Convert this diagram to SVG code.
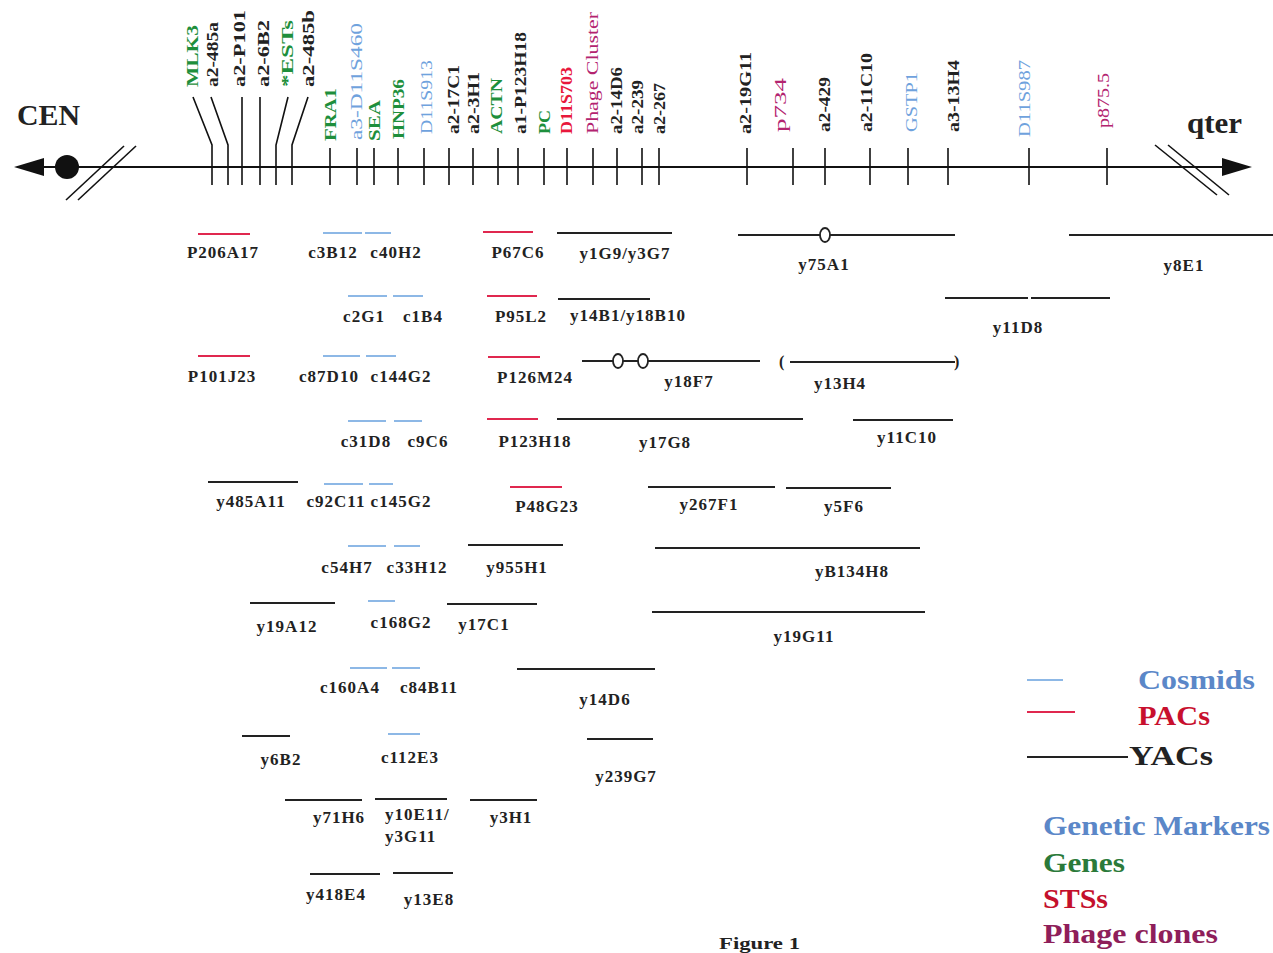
<svg xmlns="http://www.w3.org/2000/svg" width="1273" height="953" viewBox="0 0 1273 953">
<style>
.ax{stroke:#111;stroke-width:2;fill:none}
.tk{stroke:#111;stroke-width:1.6;fill:none}
.yac{stroke:#222;stroke-width:2.2}
.cos{stroke:#8db8e6;stroke-width:2}
.pac{stroke:#e0284f;stroke-width:2.2}
.lbl{font-family:"Liberation Serif",serif;font-weight:bold;font-size:17px;fill:#222;text-anchor:middle;letter-spacing:1px}
.tl{font-family:"Liberation Serif",serif;font-weight:bold;font-size:17px;fill:#222}
.tl.g{fill:#1e8f3c}
.tl.b{fill:#6fa2dd;font-weight:normal}
.tl.r{fill:#e8183c}
.tl.m{fill:#b3236f;font-weight:normal}
.big{font-family:"Liberation Serif",serif;font-weight:bold;font-size:29px;fill:#222}
.leg{font-family:"Liberation Serif",serif;font-weight:bold;font-size:27px}
.par{font-family:"Liberation Serif",serif;font-weight:bold;font-size:16px;fill:#222}
.ring{fill:#fff;stroke:#222;stroke-width:1.8}
</style>
<rect width="1273" height="953" fill="#fff"/>

<g id="axis">
<line class="ax" x1="42" y1="167" x2="1230" y2="167"/>
<polygon points="14,167 44,158 44,176" fill="#111"/>
<circle cx="67" cy="167" r="12" fill="#111"/>
<line class="tk" x1="66" y1="200" x2="124" y2="146"/>
<line class="tk" x1="78" y1="200" x2="136" y2="146"/>
<polygon points="1252,167 1222,158 1222,176" fill="#111"/>
<line class="tk" x1="1155" y1="145" x2="1217" y2="195"/>
<line class="tk" x1="1168" y1="145" x2="1229" y2="195"/>
<text class="big" x="17" y="125" textLength="63" lengthAdjust="spacingAndGlyphs">CEN</text>
<text class="big" x="1187" y="133" textLength="55" lengthAdjust="spacingAndGlyphs">qter</text>
</g>

<g id="connectors">
<polyline class="tk" points="193,97 212,145 212,185"/>
<polyline class="tk" points="211,97 228,145 228,185"/>
<polyline class="tk" points="242,97 242,185"/>
<polyline class="tk" points="260,97 260,185"/>
<polyline class="tk" points="288,97 276,145 276,185"/>
<polyline class="tk" points="308,97 292,145 292,185"/>
</g>

<g id="markers">
<g id="m-MLK3"><text class="tl g" transform="translate(198,87) rotate(-90)" textLength="62" lengthAdjust="spacingAndGlyphs">MLK3</text></g>
<g id="m-a2-485a"><text class="tl" transform="translate(218,87) rotate(-90)" textLength="65" lengthAdjust="spacingAndGlyphs">a2-485a</text></g>
<g id="m-a2-P101"><text class="tl" transform="translate(245,87) rotate(-90)" textLength="77" lengthAdjust="spacingAndGlyphs">a2-P101</text></g>
<g id="m-a2-6B2"><text class="tl" transform="translate(269,87) rotate(-90)" textLength="67" lengthAdjust="spacingAndGlyphs">a2-6B2</text></g>
<g id="m-ESTs"><text class="tl g" transform="translate(293,87) rotate(-90)" textLength="67" lengthAdjust="spacingAndGlyphs">*ESTs</text></g>
<g id="m-a2-485b"><text class="tl" transform="translate(314,87) rotate(-90)" textLength="77" lengthAdjust="spacingAndGlyphs">a2-485b</text></g>

<g id="m-FRA1"><line class="tk" x1="330" y1="148" x2="330" y2="185"/><text class="tl g" transform="translate(336,141) rotate(-90)" textLength="53" lengthAdjust="spacingAndGlyphs">FRA1</text></g>
<g id="m-a3-D11S460"><line class="tk" x1="357" y1="148" x2="357" y2="185"/><text class="tl b" transform="translate(362,140) rotate(-90)" textLength="117" lengthAdjust="spacingAndGlyphs">a3-D11S460</text></g>
<g id="m-SEA"><line class="tk" x1="374" y1="148" x2="374" y2="185"/><text class="tl g" transform="translate(380,141) rotate(-90)" textLength="41" lengthAdjust="spacingAndGlyphs">SEA</text></g>
<g id="m-HNP36"><line class="tk" x1="398" y1="148" x2="398" y2="185"/><text class="tl g" transform="translate(404,139) rotate(-90)" textLength="60" lengthAdjust="spacingAndGlyphs">HNP36</text></g>
<g id="m-D11S913"><line class="tk" x1="424" y1="148" x2="424" y2="185"/><text class="tl b" transform="translate(432,134) rotate(-90)" textLength="74" lengthAdjust="spacingAndGlyphs">D11S913</text></g>
<g id="m-a2-17C1"><line class="tk" x1="449" y1="148" x2="449" y2="185"/><text class="tl" transform="translate(459,134) rotate(-90)" textLength="69" lengthAdjust="spacingAndGlyphs">a2-17C1</text></g>
<g id="m-a2-3H1"><line class="tk" x1="473" y1="148" x2="473" y2="185"/><text class="tl" transform="translate(479,134) rotate(-90)" textLength="62" lengthAdjust="spacingAndGlyphs">a2-3H1</text></g>
<g id="m-ACTN"><line class="tk" x1="498" y1="148" x2="498" y2="185"/><text class="tl g" transform="translate(502,134) rotate(-90)" textLength="56" lengthAdjust="spacingAndGlyphs">ACTN</text></g>
<g id="m-a1-P123H18"><line class="tk" x1="518" y1="148" x2="518" y2="185"/><text class="tl" transform="translate(526,134) rotate(-90)" textLength="102" lengthAdjust="spacingAndGlyphs">a1-P123H18</text></g>
<g id="m-PC"><line class="tk" x1="544" y1="148" x2="544" y2="185"/><text class="tl g" transform="translate(550,134) rotate(-90)" textLength="24" lengthAdjust="spacingAndGlyphs">PC</text></g>
<g id="m-D11S703"><line class="tk" x1="567" y1="148" x2="567" y2="185"/><text class="tl r" transform="translate(572,134) rotate(-90)" textLength="67" lengthAdjust="spacingAndGlyphs">D11S703</text></g>
<g id="m-Phage"><line class="tk" x1="593" y1="148" x2="593" y2="185"/><text class="tl m" transform="translate(598,134) rotate(-90)" textLength="122" lengthAdjust="spacingAndGlyphs">Phage Cluster</text></g>
<g id="m-a2-14D6"><line class="tk" x1="617" y1="148" x2="617" y2="185"/><text class="tl" transform="translate(622,134) rotate(-90)" textLength="67" lengthAdjust="spacingAndGlyphs">a2-14D6</text></g>
<g id="m-a2-239"><line class="tk" x1="642" y1="148" x2="642" y2="185"/><text class="tl" transform="translate(643,134) rotate(-90)" textLength="54" lengthAdjust="spacingAndGlyphs">a2-239</text></g>
<g id="m-a2-267"><line class="tk" x1="659" y1="148" x2="659" y2="185"/><text class="tl" transform="translate(665,134) rotate(-90)" textLength="51" lengthAdjust="spacingAndGlyphs">a2-267</text></g>
<g id="m-a2-19G11"><line class="tk" x1="747" y1="148" x2="747" y2="185"/><text class="tl" transform="translate(751,134) rotate(-90)" textLength="82" lengthAdjust="spacingAndGlyphs">a2-19G11</text></g>
<g id="m-p734"><line class="tk" x1="793" y1="148" x2="793" y2="185"/><text class="tl m" transform="translate(786,132) rotate(-90)" textLength="54" lengthAdjust="spacingAndGlyphs">p734</text></g>
<g id="m-a2-429"><line class="tk" x1="825" y1="148" x2="825" y2="185"/><text class="tl" transform="translate(830,132) rotate(-90)" textLength="55" lengthAdjust="spacingAndGlyphs">a2-429</text></g>
<g id="m-a2-11C10"><line class="tk" x1="870" y1="148" x2="870" y2="185"/><text class="tl" transform="translate(872,132) rotate(-90)" textLength="79" lengthAdjust="spacingAndGlyphs">a2-11C10</text></g>
<g id="m-GSTP1"><line class="tk" x1="908" y1="148" x2="908" y2="185"/><text class="tl b" transform="translate(917,132) rotate(-90)" textLength="60" lengthAdjust="spacingAndGlyphs">GSTP1</text></g>
<g id="m-a3-13H4"><line class="tk" x1="948" y1="148" x2="948" y2="185"/><text class="tl" transform="translate(959,132) rotate(-90)" textLength="72" lengthAdjust="spacingAndGlyphs">a3-13H4</text></g>
<g id="m-D11S987"><line class="tk" x1="1029" y1="148" x2="1029" y2="185"/><text class="tl b" transform="translate(1030,137) rotate(-90)" textLength="77" lengthAdjust="spacingAndGlyphs">D11S987</text></g>
<g id="m-p875.5"><line class="tk" x1="1107" y1="148" x2="1107" y2="185"/><text class="tl m" transform="translate(1109,128) rotate(-90)" textLength="55" lengthAdjust="spacingAndGlyphs">p875.5</text></g>
</g>

<g id="clones">
<g id="P206A17"><line class="pac" x1="198" y1="234" x2="250" y2="234"/><text class="lbl" x="223" y="258">P206A17</text></g>
<g id="c3B12"><line class="cos" x1="323" y1="233" x2="362" y2="233"/><text class="lbl" x="333" y="258">c3B12</text></g>
<g id="c40H2"><line class="cos" x1="365" y1="233" x2="391" y2="233"/><text class="lbl" x="396" y="258">c40H2</text></g>
<g id="P67C6"><line class="pac" x1="483" y1="232" x2="533" y2="232"/><text class="lbl" x="518" y="258">P67C6</text></g>
<g id="y1G9"><line class="yac" x1="557" y1="233" x2="672" y2="233"/><text class="lbl" x="625" y="259">y1G9/y3G7</text></g>
<g id="y75A1"><line class="yac" x1="738" y1="235" x2="955" y2="235"/><ellipse class="ring" cx="825" cy="235" rx="5" ry="7"/><text class="lbl" x="824" y="270">y75A1</text></g>
<g id="y8E1"><line class="yac" x1="1069" y1="235" x2="1273" y2="235"/><text class="lbl" x="1184" y="271">y8E1</text></g>

<g id="c2G1"><line class="cos" x1="348" y1="296" x2="387" y2="296"/><text class="lbl" x="364" y="322">c2G1</text></g>
<g id="c1B4"><line class="cos" x1="393" y1="296" x2="423" y2="296"/><text class="lbl" x="423" y="322">c1B4</text></g>
<g id="P95L2"><line class="pac" x1="487" y1="296" x2="537" y2="296"/><text class="lbl" x="521" y="322">P95L2</text></g>
<g id="y14B1"><line class="yac" x1="558" y1="299" x2="650" y2="299"/><text class="lbl" x="628" y="321">y14B1/y18B10</text></g>
<g id="y11D8"><line class="yac" x1="945" y1="298" x2="1028" y2="298"/><line class="yac" x1="1031" y1="298" x2="1110" y2="298"/><text class="lbl" x="1018" y="333">y11D8</text></g>

<g id="P101J23"><line class="pac" x1="198" y1="356" x2="250" y2="356"/><text class="lbl" x="222" y="382">P101J23</text></g>
<g id="c87D10"><line class="cos" x1="323" y1="356" x2="360" y2="356"/><text class="lbl" x="329" y="382">c87D10</text></g>
<g id="c144G2"><line class="cos" x1="366" y1="356" x2="396" y2="356"/><text class="lbl" x="401" y="382">c144G2</text></g>
<g id="P126M24"><line class="pac" x1="488" y1="357" x2="540" y2="357"/><text class="lbl" x="535" y="383">P126M24</text></g>
<g id="y18F7"><line class="yac" x1="582" y1="361" x2="760" y2="361"/><ellipse class="ring" cx="618" cy="361" rx="5" ry="7"/><ellipse class="ring" cx="643" cy="361" rx="5" ry="7"/><text class="lbl" x="689" y="387">y18F7</text></g>
<g id="y13H4"><line class="yac" x1="790" y1="362" x2="955" y2="362"/><text class="par" x="779" y="367">(</text><text class="par" x="954" y="367">)</text><text class="lbl" x="840" y="389">y13H4</text></g>

<g id="c31D8"><line class="cos" x1="348" y1="421" x2="386" y2="421"/><text class="lbl" x="366" y="447">c31D8</text></g>
<g id="c9C6"><line class="cos" x1="394" y1="421" x2="422" y2="421"/><text class="lbl" x="428" y="447">c9C6</text></g>
<g id="P123H18"><line class="pac" x1="487" y1="419" x2="538" y2="419"/><text class="lbl" x="535" y="447">P123H18</text></g>
<g id="y17G8"><line class="yac" x1="557" y1="419" x2="803" y2="419"/><text class="lbl" x="665" y="448">y17G8</text></g>
<g id="y11C10"><line class="yac" x1="853" y1="420" x2="953" y2="420"/><text class="lbl" x="907" y="443">y11C10</text></g>

<g id="y485A11"><line class="yac" x1="208" y1="482" x2="298" y2="482"/><text class="lbl" x="251" y="507">y485A11</text></g>
<g id="c92C11"><line class="cos" x1="324" y1="484" x2="363" y2="484"/><text class="lbl" x="336" y="507">c92C11</text></g>
<g id="c145G2"><line class="cos" x1="369" y1="484" x2="393" y2="484"/><text class="lbl" x="401" y="507">c145G2</text></g>
<g id="P48G23"><line class="pac" x1="510" y1="487" x2="562" y2="487"/><text class="lbl" x="547" y="512">P48G23</text></g>
<g id="y267F1"><line class="yac" x1="648" y1="487" x2="775" y2="487"/><text class="lbl" x="709" y="510">y267F1</text></g>
<g id="y5F6"><line class="yac" x1="786" y1="488" x2="891" y2="488"/><text class="lbl" x="844" y="512">y5F6</text></g>

<g id="c54H7"><line class="cos" x1="348" y1="546" x2="386" y2="546"/><text class="lbl" x="347" y="573">c54H7</text></g>
<g id="c33H12"><line class="cos" x1="394" y1="546" x2="420" y2="546"/><text class="lbl" x="417" y="573">c33H12</text></g>
<g id="y955H1"><line class="yac" x1="468" y1="545" x2="563" y2="545"/><text class="lbl" x="517" y="573">y955H1</text></g>
<g id="yB134H8"><line class="yac" x1="655" y1="548" x2="920" y2="548"/><text class="lbl" x="852" y="577">yB134H8</text></g>

<g id="y19A12"><line class="yac" x1="250" y1="603" x2="335" y2="603"/><text class="lbl" x="287" y="632">y19A12</text></g>
<g id="c168G2"><line class="cos" x1="368" y1="601" x2="395" y2="601"/><text class="lbl" x="401" y="628">c168G2</text></g>
<g id="y17C1"><line class="yac" x1="447" y1="604" x2="537" y2="604"/><text class="lbl" x="484" y="630">y17C1</text></g>
<g id="y19G11"><line class="yac" x1="652" y1="612" x2="925" y2="612"/><text class="lbl" x="804" y="642">y19G11</text></g>

<g id="c160A4"><line class="cos" x1="350" y1="668" x2="387" y2="668"/><text class="lbl" x="350" y="693">c160A4</text></g>
<g id="c84B11"><line class="cos" x1="392" y1="668" x2="420" y2="668"/><text class="lbl" x="429" y="693">c84B11</text></g>
<g id="y14D6"><line class="yac" x1="517" y1="669" x2="655" y2="669"/><text class="lbl" x="605" y="705">y14D6</text></g>

<g id="y6B2"><line class="yac" x1="242" y1="736" x2="290" y2="736"/><text class="lbl" x="281" y="765">y6B2</text></g>
<g id="c112E3"><line class="cos" x1="388" y1="734" x2="420" y2="734"/><text class="lbl" x="410" y="763">c112E3</text></g>
<g id="y239G7"><line class="yac" x1="587" y1="739" x2="653" y2="739"/><text class="lbl" x="626" y="782">y239G7</text></g>

<g id="y71H6"><line class="yac" x1="285" y1="800" x2="362" y2="800"/><text class="lbl" x="339" y="823">y71H6</text></g>
<g id="y10E11"><line class="yac" x1="375" y1="799" x2="447" y2="799"/><text class="lbl" x="385" y="820" style="text-anchor:start">y10E11/</text><text class="lbl" x="385" y="842" style="text-anchor:start">y3G11</text></g>
<g id="y3H1"><line class="yac" x1="470" y1="800" x2="537" y2="800"/><text class="lbl" x="511" y="823">y3H1</text></g>

<g id="y418E4"><line class="yac" x1="310" y1="874" x2="380" y2="874"/><text class="lbl" x="336" y="900">y418E4</text></g>
<g id="y13E8"><line class="yac" x1="393" y1="873" x2="453" y2="873"/><text class="lbl" x="429" y="905">y13E8</text></g>
</g>

<g id="legend">
<g id="leg-cos"><line class="cos" x1="1027" y1="680" x2="1063" y2="680"/><text class="leg" x="1138" y="689" textLength="117" lengthAdjust="spacingAndGlyphs" fill="#5b87c8">Cosmids</text></g>
<g id="leg-pac"><line class="pac" x1="1027" y1="712" x2="1075" y2="712"/><text class="leg" x="1138" y="725" textLength="72" lengthAdjust="spacingAndGlyphs" fill="#c8102e">PACs</text></g>
<g id="leg-yac"><line class="yac" x1="1027" y1="757" x2="1128" y2="757"/><text class="leg" x="1129" y="765" textLength="84" lengthAdjust="spacingAndGlyphs" fill="#222">YACs</text></g>
<text class="leg" x="1043" y="835" textLength="227" lengthAdjust="spacingAndGlyphs" fill="#5b87c8">Genetic Markers</text>
<text class="leg" x="1043" y="872" textLength="82" lengthAdjust="spacingAndGlyphs" fill="#2b7a3a">Genes</text>
<text class="leg" x="1043" y="908" textLength="65" lengthAdjust="spacingAndGlyphs" fill="#c4102c">STSs</text>
<text class="leg" x="1043" y="943" textLength="175" lengthAdjust="spacingAndGlyphs" fill="#8e1e5a">Phage clones</text>
</g>

<text id="caption" x="719" y="949" textLength="81" lengthAdjust="spacingAndGlyphs" style="font-family:'Liberation Serif',serif;font-weight:bold;font-size:16px;fill:#222">Figure 1</text>
</svg>
